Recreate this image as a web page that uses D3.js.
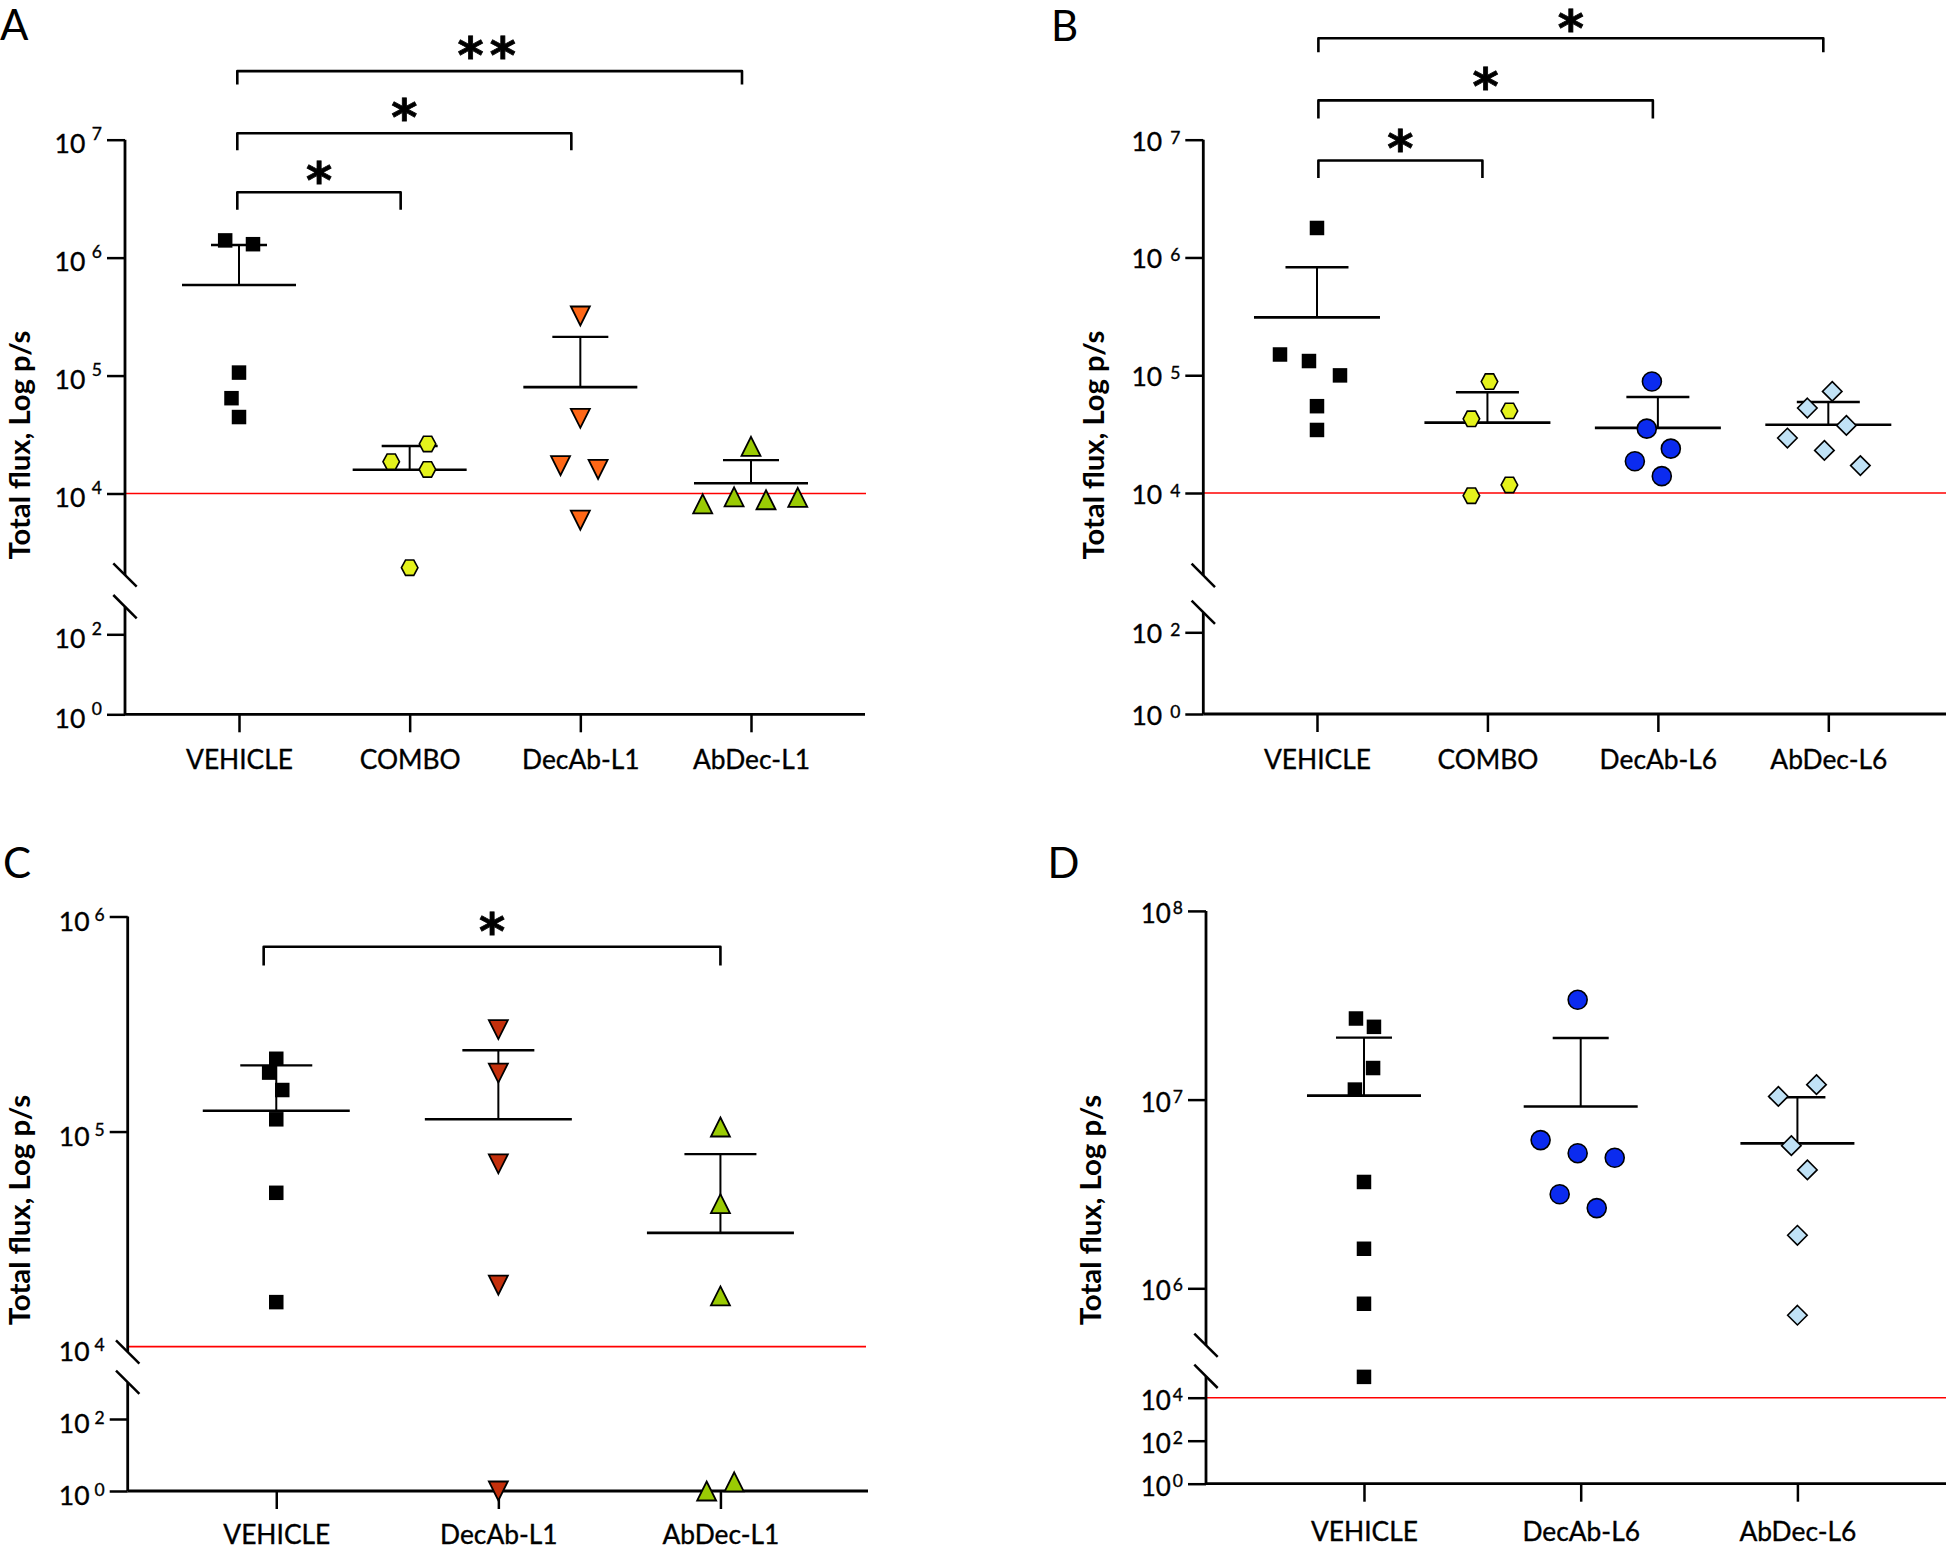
<!DOCTYPE html>
<html><head><meta charset="utf-8">
<script src="https://cdn.jsdelivr.net/npm/d3@7"></script>
<style>body{margin:0;background:#fff}svg{display:block}</style>
</head><body>
<svg id="c" width="1946" height="1551"></svg>
<script>
// ================= DATA =================
const detectionLimit = 1e4;

// Panel A
const catsA = ["VEHICLE", "COMBO", "DecAb-L1", "AbDec-L1"];
const vehicleA = [1.40e6, 1.30e6, 1.06e5, 6.43e4, 4.45e4];
const comboA = [2.63e4, 1.86e4, 1.60e4, 2.35e3];
const decAbL1A = [3.2e5, 4.34e4, 1.72e4, 1.60e4, 5.94e3];
const abDecL1A = [2.51e4, 8.18e3, 9.38e3, 8.85e3, 9.27e3];
const meanA = [5.86e5, 1.59e4, 7.98e4, 1.22e4];
const sdA = [6.94e5, 9.4e3, 1.33e5, 7.0e3];
const jitterA = [[-0.081, 0.082, 0, -0.044, 0], [0.105, -0.108, 0.104, 0], [0, 0, -0.116, 0.104, 0], [0, -0.283, -0.099, 0.088, 0.274]];
const sigA = [["VEHICLE", "COMBO", "*"], ["VEHICLE", "DecAb-L1", "*"], ["VEHICLE", "AbDec-L1", "**"]];
const ticksUpperA = [1e4, 1e5, 1e6, 1e7];
const ticksLowerA = [1, 1e2];

// Panel B
const catsB = ["VEHICLE", "COMBO", "DecAb-L6", "AbDec-L6"];
const vehicleB = [1.78e6, 1.50e5, 1.32e5, 9.97e4, 5.46e4, 3.43e4];
const comboB = [8.83e4, 4.27e4, 4.98e4, 9.48e3, 1.17e4];
const decAbL6B = [8.85e4, 3.52e4, 2.38e4, 1.86e4, 1.39e4];
const abDecL6B = [7.29e4, 5.27e4, 3.75e4, 2.93e4, 2.30e4, 1.71e4];
const meanB = [3.10e5, 3.96e4, 3.57e4, 3.80e4];
const sdB = [5.16e5, 3.2e4, 2.96e4, 2.13e4];
const jitterB = [[0, -0.217, -0.047, 0.135, 0, 0], [0.012, -0.094, 0.129, -0.094, 0.129], [-0.035, -0.065, 0.076, -0.135, 0.023], [0.023, -0.123, 0.106, -0.240, -0.023, 0.188]];
const sigB = [["VEHICLE", "COMBO", "*"], ["VEHICLE", "DecAb-L6", "*"], ["VEHICLE", "AbDec-L6", "*"]];
const ticksUpperB = [1e4, 1e5, 1e6, 1e7];
const ticksLowerB = [1, 1e2];

// Panel C
const catsC = ["VEHICLE", "DecAb-L1", "AbDec-L1"];
const vehicleC = [2.18e5, 1.88e5, 1.56e5, 1.14e5, 5.19e4, 1.61e4];
const decAbL1C = [2.98e5, 1.87e5, 7.08e4, 1.93e4, 1];
const abDecL1C = [1.05e5, 4.62e4, 1.72e4, 1, 1.8];
const meanC = [1.25e5, 1.14e5, 3.38e4];
const sdC = [7.8e4, 1.25e5, 4.47e4];
const jitterC = [[0, -0.032, 0.027, 0, 0, 0], [0, 0, 0, 0, 0], [0, 0, 0, -0.062, 0.062]];
const sigC = [["VEHICLE", "AbDec-L1", "*"]];
const ticksUpperC = [1e5, 1e6];
const labelsUpperC = [1e4, 1e5, 1e6];
const ticksLowerC = [1, 1e2];

// Panel D
const catsD = ["VEHICLE", "DecAb-L6", "AbDec-L6"];
const vehicleD = [2.69e7, 2.43e7, 1.47e7, 1.13e7, 3.66e6, 1.62e6, 8.28e5, 9.3e4];
const decAbL6D = [3.38e7, 6.10e6, 5.2e6, 4.92e6, 3.15e6, 2.66e6];
const abDecL6D = [1.20e7, 1.04e7, 5.70e6, 4.24e6, 1.91e6, 7.2e5];
const meanD = [1.05e7, 9.19e6, 5.86e6];
const sdD = [1.08e7, 1.20e7, 4.44e6];
const jitterD = [[-0.037, 0.046, 0.042, -0.042, 0, 0, 0, 0], [-0.014, -0.185, -0.014, 0.157, -0.097, 0.074], [0.088, -0.088, -0.028, 0.046, 0, 0]];
const sigD = [];
const ticksUpperD = [1e6, 1e7, 1e8];
const ticksLowerD = [1, 1e2, 1e4];

const yTitle = "Total flux, Log p/s";

// ================= STYLE =================
const FONT = "Lato, 'Open Sans', sans-serif";
const STAR_FONT = "'DejaVu Sans', sans-serif";
const sym = {
  square:  {shape: "square",  fill: "#000000", size: 14.5, stroke: 0},
  hexagon: {shape: "hexagon", fill: "#e4f21c", size: 16.5, stroke: 1.6},
  triOrange: {shape: "triDown", fill: "#ff6716", size: 19, stroke: 1.8},
  triRed:  {shape: "triDown", fill: "#c4300c", size: 19, stroke: 1.8},
  triGreen:{shape: "triUp",   fill: "#9acb04", size: 19, stroke: 1.8},
  circle:  {shape: "circle",  fill: "#0b2bef", size: 19, stroke: 1.6},
  diamond: {shape: "diamond", fill: "#c0e2f6", size: 19.5, stroke: 1.6}
};

function symbolPath(shape, s) {
  const h = s / 2;
  switch (shape) {
    case "square": return `M${-h},${-h}H${h}V${h}H${-h}Z`;
    case "hexagon": { const t = h * 0.93; return `M${-h},0L${-h/2},${-t}L${h/2},${-t}L${h},0L${h/2},${t}L${-h/2},${t}Z`; }
    case "triDown": return `M${-h},${-h}L${h},${-h}L0,${h}Z`;
    case "triUp": return `M0,${-h}L${h},${h}L${-h},${h}Z`;
    case "circle": return d3.symbol(d3.symbolCircle, Math.PI * h * h)();
    case "diamond": return `M0,${-h}L${h},0L0,${h}L${-h},0Z`;
  }
}

const svg = d3.select("#c");
svg.append("rect").attr("width", 1946).attr("height", 1551).attr("fill", "#fff");

// fit category label font size to the reference width of "VEHICLE"
const probe = svg.append("text").attr("font-family", FONT).attr("font-size", 30).text("VEHICLE");
const catFont = 30 * 107 / probe.node().getComputedTextLength();
probe.remove();
const probe2 = svg.append("text").attr("font-family", FONT).attr("font-weight", 700).attr("font-size", 30).text(yTitle);
const titleFontBase = 30 / probe2.node().getComputedTextLength();
probe2.remove();

const panels = [
  { label: "A", labelPos: [0, 40], cats: catsA,
    groups: [[vehicleA, sym.square], [comboA, sym.hexagon], [decAbL1A, sym.triOrange], [abDecL1A, sym.triGreen]],
    mean: meanA, sd: sdA, jitter: jitterA, sig: sigA,
    axisX: 125, xRange: [125, 865], pad: 0.668, xAxisEnd: 865, redEnd: 866,
    upper: {dom: [1e4, 1e7], rng: [493.5, 139.7], seg: [Math.pow(10, 3.309), 1e7], ticks: ticksUpperA, labels: ticksUpperA},
    lower: {dom: [1, 100], rng: [714.3, 634.3], seg: [1, Math.pow(10, 2.69)], ticks: ticksLowerA, labels: ticksLowerA},
    tickFont: 26.5, labBase: 13.5, supGap: 6.5, supDy: -13, catPad: 18,
    title: [29.5, 445, 229], meanHalf: 57, capHalf: 28,
    br: {levels: [192.3, 133.2, 71.1], legs: [17.4, 17, 13.4], starUp: [23.3, 27.3, 27.4], inset: [-1.7, -9]} },
  { label: "B", labelPos: [1051, 41], cats: catsB,
    groups: [[vehicleB, sym.square], [comboB, sym.hexagon], [decAbL6B, sym.circle], [abDecL6B, sym.diamond]],
    mean: meanB, sd: sdB, jitter: jitterB, sig: sigB,
    axisX: 1203.3, xRange: [1203.3, 1942], pad: 0.667, xAxisEnd: 1946, redEnd: 1946,
    upper: {dom: [1e4, 1e7], rng: [493, 139.7], seg: [Math.pow(10, 3.30), 1e7], ticks: ticksUpperB, labels: ticksUpperB},
    lower: {dom: [1, 100], rng: [714, 632.3], seg: [1, Math.pow(10, 2.49)], ticks: ticksLowerB, labels: ticksLowerB},
    tickFont: 26.5, labBase: 11, supGap: 8, supDy: -7, catPad: 18,
    title: [1103.5, 445, 229], meanHalf: 63, capHalf: 31.5,
    br: {levels: [160.5, 100.4, 38.3], legs: [17.5, 18, 14], starUp: [23.8, 25.8, 21.5], inset: [1.4, -5]} },
  { label: "C", labelPos: [3, 878], cats: catsC,
    groups: [[vehicleC, sym.square], [decAbL1C, sym.triRed], [abDecL1C, sym.triGreen]],
    mean: meanC, sd: sdC, jitter: jitterC, sig: sigC,
    axisX: 127.7, xRange: [127.7, 869], pad: 0.669, xAxisEnd: 868, redEnd: 866,
    upper: {dom: [1e4, 1e6], rng: [1346.6, 916.5], seg: [Math.pow(10, 3.975), 1e6], ticks: ticksUpperC, labels: labelsUpperC},
    lower: {dom: [1, 100], rng: [1491, 1419], seg: [1, Math.pow(10, 3.02)], ticks: ticksLowerC, labels: ticksLowerC},
    tickFont: 26.5, labBase: 14, supGap: 5, supDy: -9.5, catPad: 16,
    title: [29.5, 1210, 230.6], meanHalf: 73.5, capHalf: 36,
    br: {levels: [946.7], legs: [18.7], starUp: [26.5], inset: [-12.6, 0]} },
  { label: "D", labelPos: [1047.5, 878], cats: catsD,
    groups: [[vehicleD, sym.square], [decAbL6D, sym.circle], [abDecL6D, sym.diamond]],
    mean: meanD, sd: sdD, jitter: jitterD, sig: sigD,
    axisX: 1206, xRange: [1206, 1955.4], pad: 0.729, xAxisEnd: 1946, redEnd: 1946,
    upper: {dom: [1e6, 1e8], rng: [1288.3, 910.9], seg: [Math.pow(10, 5.698), 1e8], ticks: ticksUpperD, labels: ticksUpperD},
    lower: {dom: [1, 1e4], rng: [1483.7, 1397.7], seg: [1, Math.pow(10, 4.995)], ticks: ticksLowerD, labels: ticksLowerD},
    tickFont: 26, labBase: 12, supGap: 2, supDy: -9, catPad: 21,
    title: [1100.7, 1210, 230.6], meanHalf: 57, capHalf: 28,
    br: null }
];

function drawPanel(p) {
  const g = svg.append("g");
  const x = d3.scalePoint().domain(p.cats).range(p.xRange).padding(p.pad);
  const yU = d3.scaleLog().domain(p.upper.dom).range(p.upper.rng);
  const yL = d3.scaleLog().domain(p.lower.dom).range(p.lower.rng);
  const y = v => v >= p.upper.seg[0] ? yU(v) : yL(v);
  const xAxisY = yL(1);

  // detection limit line
  g.append("line").attr("x1", p.axisX).attr("x2", p.redEnd)
    .attr("y1", y(detectionLimit)).attr("y2", y(detectionLimit))
    .attr("stroke", "#ff0000").attr("stroke-width", 1.6);

  // y axis segments
  [[yU, p.upper], [yL, p.lower]].forEach(([sc, seg]) => {
    g.append("line").attr("x1", p.axisX).attr("x2", p.axisX)
      .attr("y1", sc(seg.seg[0])).attr("y2", sc(seg.seg[1]))
      .attr("stroke", "#000").attr("stroke-width", 2.8);
    const ax = g.append("g").attr("transform", `translate(${p.axisX},0)`)
      .call(d3.axisLeft(sc).tickValues(seg.ticks).tickSize(18).tickFormat(""));
    ax.select(".domain").remove();
    ax.selectAll("line").attr("stroke-width", 2.5);
    seg.labels.forEach(t => {
      const e = Math.round(Math.log10(t));
      const tx = g.append("text").attr("x", p.axisX - 18 - 5).attr("y", sc(t) + p.labBase)
        .attr("text-anchor", "end").attr("font-family", FONT).attr("font-size", p.tickFont)
        .attr("fill", "#000").attr("stroke", "#000").attr("stroke-width", 0.35);
      tx.append("tspan").text("10");
      tx.append("tspan").attr("dx", p.supGap).attr("dy", p.supDy).attr("font-size", 17.5).text(String(e));
    });
  });
  // break marks
  [yU(p.upper.seg[0]), yL(p.lower.seg[1])].forEach(yb => {
    g.append("line").attr("x1", p.axisX - 11.7).attr("y1", yb - 11.7)
      .attr("x2", p.axisX + 11.7).attr("y2", yb + 11.7)
      .attr("stroke", "#000").attr("stroke-width", 2.5);
  });

  // x axis
  g.append("line").attr("x1", p.axisX).attr("x2", p.xAxisEnd).attr("y1", xAxisY).attr("y2", xAxisY)
    .attr("stroke", "#000").attr("stroke-width", 2.8);
  const xa = g.append("g").attr("transform", `translate(0,${xAxisY})`)
    .call(d3.axisBottom(x).tickSize(18).tickPadding(p.catPad));
  xa.select(".domain").remove();
  xa.selectAll("line").attr("stroke-width", 2.5);
  xa.selectAll("text").attr("font-family", FONT).attr("font-size", catFont)
    .attr("fill", "#000").attr("stroke", "#000").attr("stroke-width", 0.35);

  // mean and SD bars
  p.cats.forEach((c, i) => {
    const cx = x(c), my = y(p.mean[i]), ty = y(p.mean[i] + p.sd[i]);
    g.append("line").attr("x1", cx).attr("x2", cx).attr("y1", my).attr("y2", ty)
      .attr("stroke", "#000").attr("stroke-width", 2);
    g.append("line").attr("x1", cx - p.capHalf).attr("x2", cx + p.capHalf).attr("y1", ty).attr("y2", ty)
      .attr("stroke", "#000").attr("stroke-width", 2.4);
    g.append("line").attr("x1", cx - p.meanHalf).attr("x2", cx + p.meanHalf).attr("y1", my).attr("y2", my)
      .attr("stroke", "#000").attr("stroke-width", 2.6);
  });

  // points
  p.groups.forEach(([vals, s], i) => {
    const cx = x(p.cats[i]);
    g.append("g").selectAll("path").data(vals).join("path")
      .attr("d", symbolPath(s.shape, s.size))
      .attr("transform", (v, j) => `translate(${cx + p.jitter[i][j] * x.step()},${y(v)})`)
      .attr("fill", s.fill)
      .attr("stroke", s.stroke ? "#000" : "none")
      .attr("stroke-width", s.stroke)
      .attr("stroke-linejoin", "miter");
  });

  // significance brackets
  if (p.br) {
    p.sig.forEach((s, i) => {
      const x1 = x(s[0]) + p.br.inset[0], x2 = x(s[1]) + p.br.inset[1];
      const yl = p.br.levels[i], yb = yl + p.br.legs[i];
      g.append("path").attr("d", `M${x1},${yb}V${yl}H${x2}V${yb}`)
        .attr("fill", "none").attr("stroke", "#000").attr("stroke-width", 2.6)
        .attr("stroke-linejoin", "round");
      const fs = 50;
      g.append("text").attr("x", (x1 + x2) / 2).attr("y", yl - p.br.starUp[i] + 0.58 * fs)
        .attr("text-anchor", "middle").attr("font-family", STAR_FONT).attr("font-weight", 700)
        .attr("font-size", fs).attr("stroke", "#000").attr("stroke-width", 0.8)
        .attr("letter-spacing", s[2].length > 1 ? 6 : 0).text(s[2]);
    });
  }

  // y title
  const [tx, ty, tw] = p.title;
  g.append("text").attr("transform", `translate(${tx},${ty}) rotate(-90)`)
    .attr("text-anchor", "middle").attr("font-family", FONT).attr("font-weight", 700)
    .attr("font-size", titleFontBase * tw).attr("fill", "#000").text(yTitle);

  // panel letter
  g.append("text").attr("x", p.labelPos[0]).attr("y", p.labelPos[1])
    .attr("font-family", FONT).attr("font-size", 42).attr("fill", "#000").text(p.label);
}

panels.forEach(drawPanel);
</script>
</body></html>
